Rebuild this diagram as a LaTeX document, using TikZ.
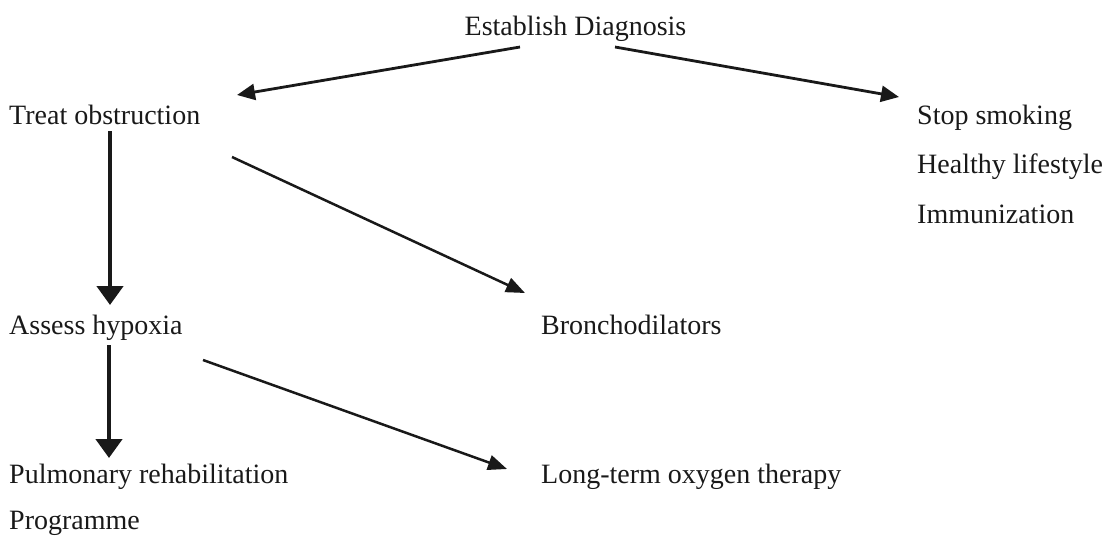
\documentclass[tikz,border=0pt]{standalone}
\usepackage{fontspec}
\setmainfont{Liberation Serif}
\usetikzlibrary{arrows.meta}
\begin{document}
\begin{tikzpicture}[x=1pt,y=-1pt,
  lbl/.style={anchor=base west,inner sep=0pt,font=\fontsize{28}{34}\selectfont,text=black!90},
  thinarr/.style={draw=black!90,line width=2.8pt,-{Triangle[length=18pt,width=16pt]}},
  diagarr/.style={draw=black!90,line width=2.5pt,-{Triangle[length=19pt,width=15pt]}},
  thickarr/.style={draw=black!90,line width=4.5pt,-{Triangle[length=19pt,width=26pt]}}]
\useasboundingbox (0,0) rectangle (1114,538);
\node[lbl,anchor=base] (diag) at (575.5,35) {Establish Diagnosis};
\node[lbl] (treat) at (9,124) {Treat obstruction};
\node[lbl] (stop) at (917,124) {Stop smoking};
\node[lbl] (healthy) at (917,173) {Healthy lifestyle};
\node[lbl] (immun) at (917,223) {Immunization};
\node[lbl] (assess) at (9,334) {Assess hypoxia};
\node[lbl] (broncho) at (541,334) {Bronchodilators};
\node[lbl] (pulm) at (9,483) {Pulmonary rehabilitation};
\node[lbl] (prog) at (9,529) {Programme};
\node[lbl] (oxy) at (541,483) {Long-term oxygen therapy};
\coordinate (d1) at (520,47);
\coordinate (t1) at (237,95);
\coordinate (d2) at (615,47);
\coordinate (s1) at (899,97);
\coordinate (t2) at (110,131);
\coordinate (a1) at (110,305);
\coordinate (t3) at (232,157);
\coordinate (b1) at (525,293);
\coordinate (a2) at (109,345);
\coordinate (p1) at (109,458);
\coordinate (a3) at (203,360);
\coordinate (o1) at (507,469);
\draw[thinarr] (d1) -- (t1);
\draw[thinarr] (d2) -- (s1);
\draw[thickarr] (t2) -- (a1);
\draw[diagarr] (t3) -- (b1);
\draw[thickarr] (a2) -- (p1);
\draw[diagarr] (a3) -- (o1);
\end{tikzpicture}
\end{document}
